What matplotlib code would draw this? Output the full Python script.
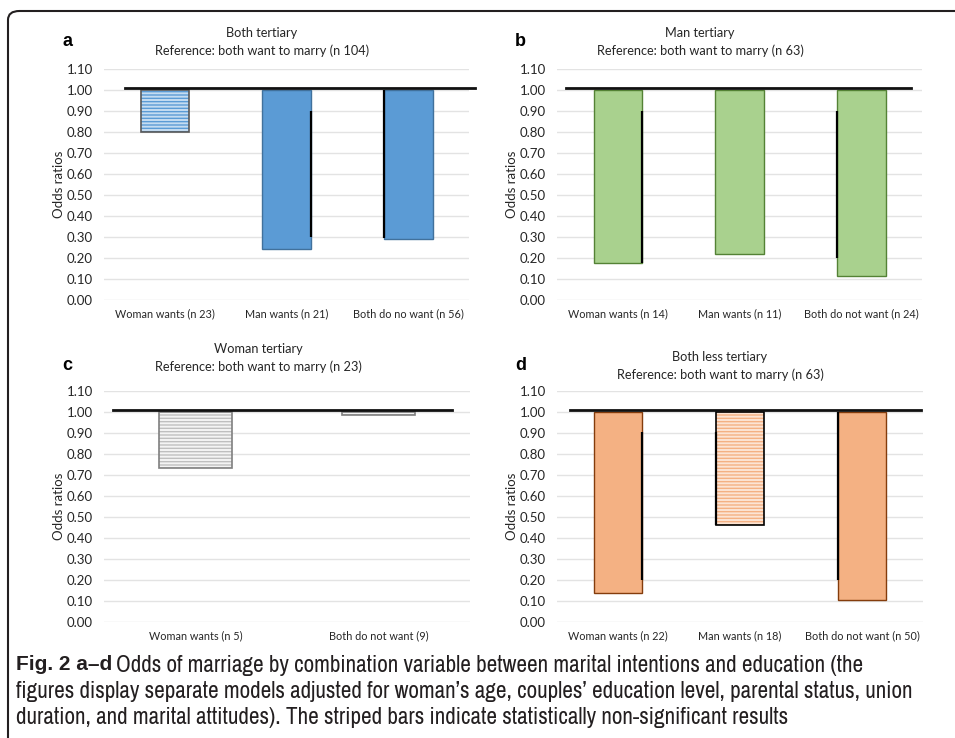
import numpy as np
import matplotlib
matplotlib.use('Agg')
import matplotlib.pyplot as plt
from matplotlib import font_manager
from matplotlib.patches import FancyBboxPatch

# panel data: odds ratios (bars hang down from the reference value 1.0)
titles = ['Both tertiary\nReference: both want to marry (n 104)',
          'Man tertiary\nReference: both want to marry (n 63)',
          'Woman tertiary\nReference: both want to marry (n 23)',
          'Both less tertiary\nReference: both want to marry (n 63)']
panel_letters = ['a', 'b', 'c', 'd']

cats_a = ['Woman wants (n 23)', 'Man wants (n 21)', 'Both do no want (n 56)']
cats_b = ['Woman wants (n 14)', 'Man wants (n 11)', 'Both do not want (n 24)']
cats_c = ['Woman wants (n 5)', 'Both do not want (9)']
cats_d = ['Woman wants (n 22)', 'Man wants (n 18)', 'Both do not want (n 50)']

odds_a = [0.80, 0.245, 0.29]
odds_b = [0.175, 0.22, 0.115]
odds_c = [0.735, 0.985]
odds_d = [0.14, 0.46, 0.105]

# True = non-significant (striped)
nonsig_a = [True, False, False]
nonsig_b = [False, False, False]
nonsig_c = [True, True]
nonsig_d = [False, True, False]

# black edge segments left over from the CI lines: (bar, side, low, high)
ci_a = [(1, 1, 0.30, 0.90), (2, -1, 0.295, 1.0)]
ci_b = [(0, 1, 0.176, 0.90), (2, -1, 0.20, 0.90)]
ci_c = []
ci_d = [(0, 1, 0.20, 0.905), (1, -1, 0.46, 0.905), (2, -1, 0.20, 1.0)]

reference = 1.0
ref_line = 1.01
yticks = np.arange(0, 1.11, 0.1)

caption_bold = 'Fig. 2 a\u2013d'
caption_lines = ['Odds of marriage by combination variable between marital intentions and education (the',
                 'figures display separate models adjusted for woman\u2019s age, couples\u2019 education level, parental status, union',
                 'duration, and marital attitudes). The striped bars indicate statistically non-significant results']

colors = {
    'a': dict(face='#5B9BD5', edge='#41719C', light='#C5DCF1', stripe='#5B9BD5', sedge='#595959'),
    'b': dict(face='#A9D18E', edge='#548235', light='#A9D18E', stripe='#A9D18E', sedge='#548235'),
    'c': dict(face='#D9D9D9', edge='#7F7F7F', light='#F4F4F4', stripe='#BFBFBF', sedge='#7F7F7F'),
    'd': dict(face='#F4B183', edge='#843C0C', light='#FCE4D4', stripe='#F4B183', sedge='#000000'),
}

plt.rcParams['font.family'] = ['Lato', 'DejaVu Sans']
plt.rcParams['hatch.linewidth'] = 1.0

# narrow font for the caption if one is around
cap_font = 'Liberation Sans'
for f in font_manager.fontManager.ttflist:
    if 'Narrow' in f.name or 'Condensed' in f.name:
        cap_font = f.name
        break
has_bold = any(f.name == cap_font and f.weight in ('bold', 700, 'heavy', 800)
               for f in font_manager.fontManager.ttflist)

W, H = 955, 738
fig = plt.figure(figsize=(W / 100, H / 100), dpi=100)

# axes boxes in pixels: left, top(1.10), right, bottom(0.00)
boxes = [(104, 69, 469, 300), (557, 69, 922, 300),
         (104, 391, 470, 622), (557, 391, 923, 622)]
ref_spans = [(0.058, 1.016), (0.025, 0.97), (0.025, 0.95), (0.036, 0.995)]
title_x = [262, 700, 258, 720]
title_y = [42, 42, 358, 366]
letter_pos = [(62, 42), (515, 42), (62, 366), (515, 365)]

panels = [(cats_a, odds_a, nonsig_a, ci_a), (cats_b, odds_b, nonsig_b, ci_b),
          (cats_c, odds_c, nonsig_c, ci_c), (cats_d, odds_d, nonsig_d, ci_d)]

for i, (cats, odds, nonsig, ci) in enumerate(panels):
    l, t, r, b = boxes[i]
    ax = fig.add_axes([l / W, 1 - b / H, (r - l) / W, (b - t) / H])
    col = colors[panel_letters[i]]
    x = np.arange(len(cats))
    width = 0.4
    odds = np.array(odds)
    heights = reference - odds
    for xi, o, h, ns in zip(x, odds, heights, nonsig):
        if ns:
            ax.bar(xi, h, width, bottom=o, color=col['light'], edgecolor=col['stripe'],
                   hatch='-----', linewidth=0, zorder=2)
            ax.bar(xi, h, width, bottom=o, fill=False, edgecolor=col['sedge'],
                   linewidth=1.2, zorder=3)
        else:
            ax.bar(xi, h, width, bottom=o, color=col['face'], edgecolor=col['edge'],
                   linewidth=1.0, zorder=2)
    for k, side, lo, hi in ci:
        ax.vlines(x[k] + side * width / 2, lo, hi, color='black', linewidth=1.6, zorder=4)

    ax.axhline(ref_line, xmin=ref_spans[i][0], xmax=ref_spans[i][1], color='#111111',
               linewidth=2.0, zorder=5, clip_on=False)

    ax.set_xlim(-0.5, len(cats) - 0.5)
    ax.set_ylim(0, 1.1)
    ax.set_yticks(yticks)
    ax.set_yticklabels([f'{v:.2f}' for v in yticks], fontsize=9.5, color='#262626')
    ax.set_xticks(x)
    ax.set_xticklabels(cats, fontsize=7.8, color='#262626')
    ax.tick_params(length=0, pad=8)
    ax.tick_params(axis='x', pad=6)
    ax.grid(axis='y', color='#E3E3E3', linewidth=1.0, zorder=0)
    ax.set_axisbelow(True)
    for s in ax.spines.values():
        s.set_visible(False)
    ax.set_ylabel('Odds ratios', fontsize=9.5, color='#262626', labelpad=1)

    fig.text(title_x[i] / W, 1 - title_y[i] / H, titles[i], ha='center', va='center',
             fontsize=9.2, color='#262626', linespacing=1.45)
    lx, ly = letter_pos[i]
    fig.text(lx / W, 1 - ly / H, panel_letters[i], fontsize=13, fontweight='bold',
             ha='left', va='center', family='Liberation Sans')

# caption, sized so the longest line spans about 900 px
fig.canvas.draw()
renderer = fig.canvas.get_renderer()
probe = fig.text(0, 0, caption_lines[1], fontsize=13.5, family=cap_font)
w_probe = probe.get_window_extent(renderer).width
probe.remove()
cap_size = 13.5 * 899 / w_probe

if has_bold:
    t1 = fig.text(16 / W, 1 - 665 / H, caption_bold, fontsize=cap_size, fontweight='bold',
                  family=cap_font, va='center', ha='left', color='#231F20')
else:
    t1 = fig.text(16 / W, 1 - 665 / H, caption_bold, fontsize=cap_size * 0.9,
                  fontweight='bold', family='Liberation Sans', va='center', ha='left',
                  color='#231F20')
bb = t1.get_window_extent(renderer)
fig.text((bb.x1 + 4) / W, 1 - 665 / H, caption_lines[0], fontsize=cap_size,
         family=cap_font, va='center', ha='left', color='#231F20')
for j, line in enumerate(caption_lines[1:]):
    fig.text(16 / W, 1 - (691 + 26 * j) / H, line, fontsize=cap_size, family=cap_font,
             va='center', ha='left', color='#231F20')

# rounded frame, running off the right and bottom edges
frame = FancyBboxPatch((8 / W, -10 / H), 1.06, (738 - 11 + 10) / H,
                       boxstyle='round,pad=0,rounding_size=0.012',
                       transform=fig.transFigure, fill=False, edgecolor='#231F20',
                       linewidth=1.5, clip_on=False)
fig.patches.append(frame)

fig.savefig('out.png', dpi=100)
